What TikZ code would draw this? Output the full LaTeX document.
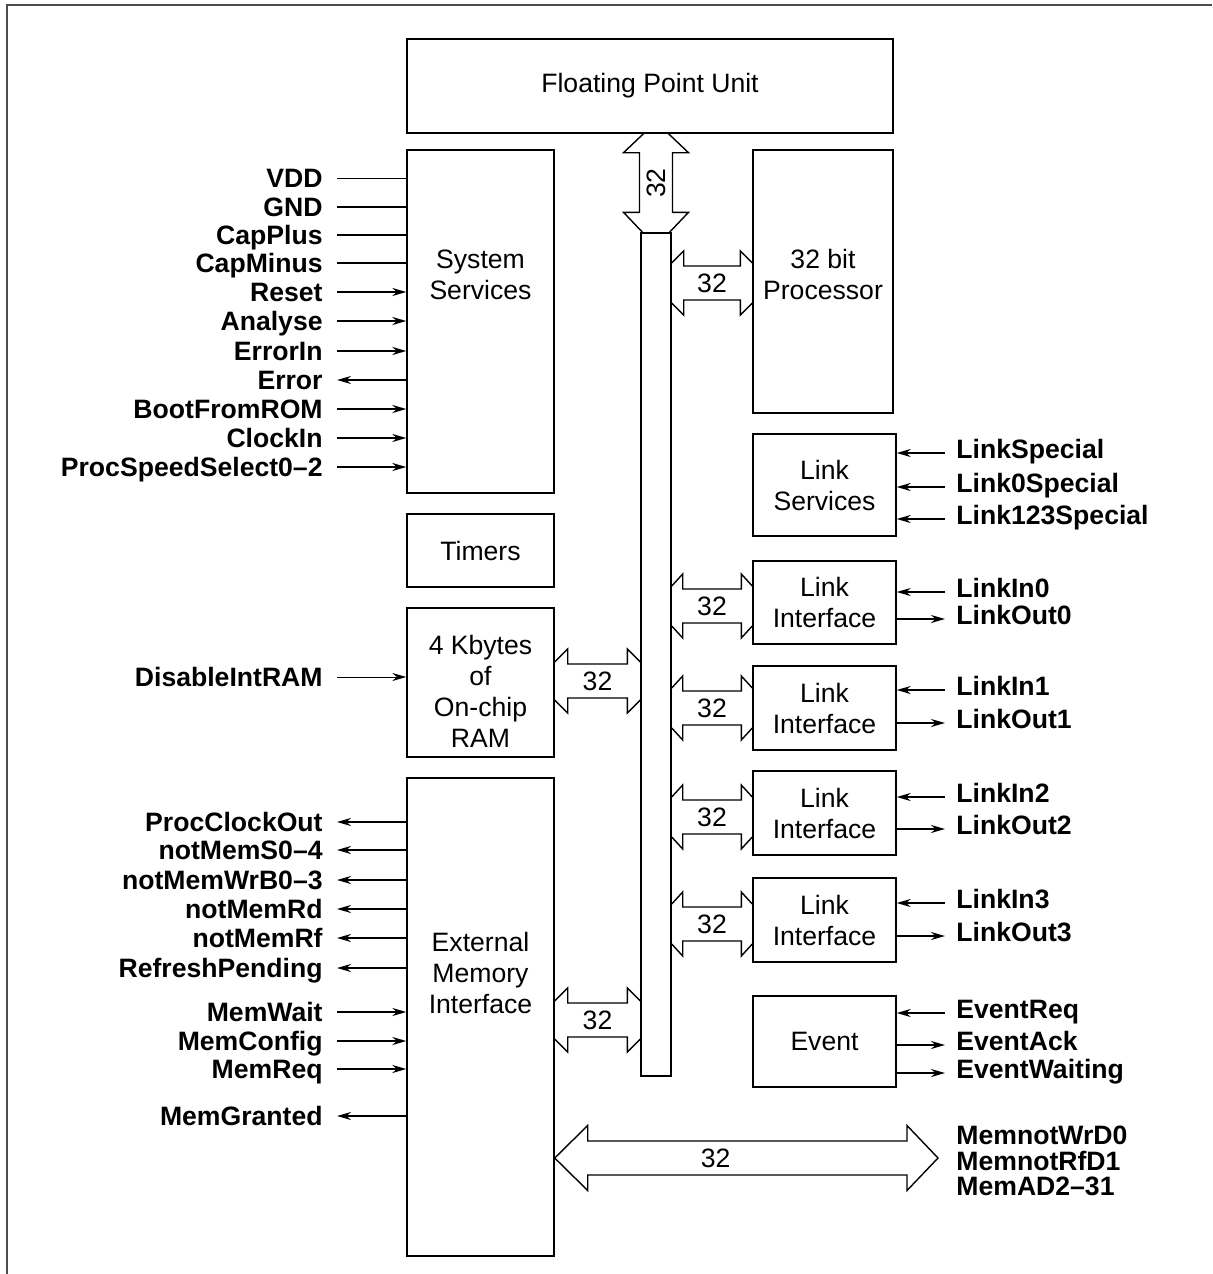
\documentclass[tikz,border=0pt]{standalone}
\usepackage{fontspec}
\setmainfont{Liberation Sans}
\usetikzlibrary{arrows.meta,calc}
\newcommand\hbus[6]{% #1 left node, #2 right node, #3 y, #4 head length, #5 tip half-width, #6 label name
  \coordinate (L) at (#1.east |- 0,#3);
  \coordinate (R) at (#2.west |- 0,#3);
  \draw[busline] ($(L)+(0,-#5)$) -- ($(L)+(#4,-32)$) -- ($(L)+(#4,-17)$) -- ($(R)+(-#4,-17)$) -- ($(R)+(-#4,-32)$) -- ($(R)+(0,-#5)$);
  \draw[busline] ($(L)+(0,#5)$) -- ($(L)+(#4,32)$) -- ($(L)+(#4,17)$) -- ($(R)+(-#4,17)$) -- ($(R)+(-#4,32)$) -- ($(R)+(0,#5)$);
  \node[txt] (#6) at ($(L)!0.5!(R)$) {32};
}
\begin{document}
\begin{tikzpicture}[x=0.5pt,y=-0.5pt,
  every node/.style={font=\fontsize{13.3}{15.5}\selectfont},
  box/.style={draw, line width=0.7pt, inner sep=0pt},
  txt/.style={inner sep=0pt, align=center},
  busline/.style={line width=0.7pt, line join=miter},
  lblL/.style={anchor=east, inner sep=0pt, font=\fontsize{13.3}{15.5}\selectfont\bfseries, text height=9.5pt, text depth=0pt},
  lblR/.style={anchor=west, inner sep=0pt, font=\fontsize{13.3}{15.5}\selectfont\bfseries, text height=9.5pt, text depth=4pt},
  sig/.style={line width=0.9pt},
  sn/.style={},
  sthin/.style={line width=0.5pt},
  si/.style={-{Stealth[length=7pt,width=4pt]}},
  so/.style={{Stealth[length=7pt,width=4pt]}-},
]
\useasboundingbox (0,0) rectangle (1212,1274);
% outer frame
\draw[line width=1pt, black!70] (7,1274) -- (7,5) -- (1212,5);

% blocks
\node[box, minimum width=243pt, minimum height=47pt] (fpu) at (650,86) {Floating Point Unit};
\node[box, minimum width=73.5pt, minimum height=171.5pt] (ss) at (480.5,321.5) {};
\node[txt] (ssT) at (480.5,274.5) {System\\Services};
\node[box, minimum width=73.5pt, minimum height=36.5pt] (tim) at (480.5,550.5) {Timers};
\node[box, minimum width=73.5pt, minimum height=74.5pt] (ram) at (480.5,682.5) {};
\node[txt] (ramT) at (480.5,691) {4 Kbytes\\of\\On-chip\\RAM};
\node[box, minimum width=73.5pt, minimum height=239pt] (emi) at (480.5,1017) {};
\node[txt] (emiT) at (480.5,973) {External\\Memory\\Interface};
\node[box, minimum width=15pt, minimum height=421.5pt] (bar) at (656,654.5) {};
\node[box, minimum width=70pt, minimum height=131.5pt] (proc) at (823,281.5) {};
\node[txt] (procT) at (823,274) {32 bit\\Processor};
\node[box, txt, minimum width=71.5pt, minimum height=51pt] (lsv) at (824.5,485) {Link\\Services};
\node[box, txt, minimum width=71.5pt, minimum height=41.5pt] (li0) at (824.5,602.5) {Link\\Interface};
\node[box, txt, minimum width=71.5pt, minimum height=42pt] (li1) at (824.5,708) {Link\\Interface};
\node[box, txt, minimum width=71.5pt, minimum height=42pt] (li2) at (824.5,813) {Link\\Interface};
\node[box, txt, minimum width=71.5pt, minimum height=42pt] (li3) at (824.5,920) {Link\\Interface};
\node[box, minimum width=71.5pt, minimum height=45.5pt] (ev) at (824.5,1041.5) {Event};

% vertical bus FPU <-> bar
\coordinate (T) at (bar.north |- fpu.south);
\coordinate (B) at (bar.north);
\draw[busline] ($(T)+(-12.5,0)$) -- ($(T)+(-32.5,19)$) -- ($(T)+(-16.5,19)$) -- ($(B)+(-16.5,-20)$) -- ($(B)+(-32.5,-20)$) -- ($(B)+(-13.5,0)$);
\draw[busline] ($(T)+(12.5,0)$) -- ($(T)+(32.5,19)$) -- ($(T)+(16.5,19)$) -- ($(B)+(16.5,-20)$) -- ($(B)+(32.5,-20)$) -- ($(B)+(13.5,0)$);
\node[txt, rotate=90] (vb) at ($(T)!0.5!(B)$) {32};

% horizontal buses
\hbus{bar}{proc}{283}{12}{20}{bp}
\hbus{bar}{li0}{606}{11}{20}{b0}
\hbus{bar}{li1}{708}{11}{20}{b1}
\hbus{bar}{li2}{817}{11}{20}{b2}
\hbus{bar}{li3}{924}{11}{20}{b3}
\hbus{ram}{bar}{681}{13}{19}{br}
\hbus{emi}{bar}{1020}{13}{19}{be}

% external memory bus
\coordinate (ML) at (emi.east |- 0,1158);
\coordinate (MR) at (938,1158);
\draw[busline] (ML) -- ($(ML)+(33,-32.5)$) -- ($(ML)+(33,-17)$) -- ($(MR)+(-31,-17)$) -- ($(MR)+(-31,-32.5)$) -- (MR) -- ($(MR)+(-31,32.5)$) -- ($(MR)+(-31,17)$) -- ($(ML)+(33,17)$) -- ($(ML)+(33,32.5)$) -- cycle;
\node[txt] (mb) at ($(ML)!0.42!(MR)$) {32};
\node[anchor=west, inner sep=0pt, align=left, font=\fontsize{13.3}{12.8}\selectfont\bfseries] (memsig) at (956,1161) {MemnotWrD0\\MemnotRfD1\\MemAD2--31};

% left signals of System Services
\foreach \n/\t/\y/\d in {vdd/VDD/178/sthin, gnd/GND/207/sn, cpp/CapPlus/235/sn, cpm/CapMinus/263/sn,
  rst/Reset/292/si, ana/Analyse/321/si, ein/ErrorIn/351/si, err/Error/380/so,
  bfr/BootFromROM/409/si, clk/ClockIn/438/si, pss/ProcSpeedSelect0--2/467/si}{
  \node[lblL] (\n) at (323,\y) {\t};
  \draw[sig,\d] ([xshift=7pt]\n.east) -- (\n.east -| ss.west);
}
% RAM
\node[lblL] (dir) at (323,677) {DisableIntRAM};
\draw[sig,sthin,si] ([xshift=7pt]dir.east) -- (dir.east -| ram.west);
% EMI signals
\foreach \n/\t/\y/\d in {pco/ProcClockOut/822/so, nms/notMemS0--4/850/so, nmw/notMemWrB0--3/880/so,
  nmrd/notMemRd/909/so, nmrf/notMemRf/938/so, rfp/RefreshPending/968/so,
  mwt/MemWait/1012/si, mcf/MemConfig/1041/si, mrq/MemReq/1069/si, mgr/MemGranted/1116/so}{
  \node[lblL] (\n) at (323,\y) {\t};
  \draw[sig,\d] ([xshift=7pt]\n.east) -- (\n.east -| emi.west);
}
% right signals
\foreach \n/\t/\y/\b/\d in {lsp/LinkSpecial/453/lsv/si, l0s/Link0Special/487/lsv/si, l123/Link123Special/519/lsv/si,
  lin0/LinkIn0/592/li0/si, lout0/LinkOut0/619/li0/so,
  lin1/LinkIn1/690/li1/si, lout1/LinkOut1/723/li1/so,
  lin2/LinkIn2/797/li2/si, lout2/LinkOut2/829/li2/so,
  lin3/LinkIn3/903/li3/si, lout3/LinkOut3/936/li3/so,
  erq/EventReq/1013/ev/si, eak/EventAck/1045/ev/so, ewt/EventWaiting/1073/ev/so}{
  \node[lblR] (\n) at (956,\y) {\t};
  \draw[sig,\d] ([xshift=-5.5pt]\n.west) -- (\n.west -| \b.east);
}
\end{tikzpicture}
\end{document}
